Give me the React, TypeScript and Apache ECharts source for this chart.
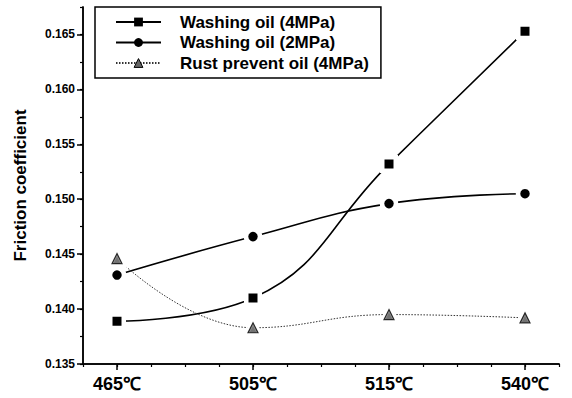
import React, { useEffect, useRef } from "react";
import * as echarts from "echarts";

const categories = ["465℃", "505℃", "515℃", "540℃"];
const seriesNames = ["Washing oil (4MPa)", "Washing oil (2MPa)", "Rust prevent oil (4MPa)"];
const washing4 = [0.1389, 0.141, 0.1532, 0.1653];
const washing2 = [0.1431, 0.1466, 0.1496, 0.1505];
const rust4 = [0.1446, 0.1383, 0.1395, 0.1392];
const yTickLabels = [0.135, 0.14, 0.145, 0.15, 0.155, 0.16, 0.165];

const FONT = "'Liberation Sans', Arial, sans-serif";

const toPoints = (vals: number[]) => vals.map((v, i) => [i, v]);

export default function App() {
  const ref = useRef<HTMLDivElement>(null);
  useEffect(() => {
    if (!ref.current) return;
    const chart = echarts.init(ref.current, null, { renderer: "svg" });
    const halo = { borderColor: "#fff", borderWidth: 4.5 };
    const axisLine = { show: true, onZero: false, lineStyle: { color: "#000", width: 1.5 } };
    chart.setOption({
      animation: false,
      backgroundColor: "#fff",
      grid: { left: 83, right: 13, top: 7, bottom: 34 },
      legend: {
        orient: "vertical",
        left: 95,
        top: 7,
        padding: [6, 12, 6, 20],
        borderColor: "#000",
        borderWidth: 1.5,
        borderRadius: 0,
        backgroundColor: "#fff",
        itemWidth: 45,
        itemHeight: 11,
        itemGap: 2.5,
        textStyle: {
          fontFamily: FONT,
          fontWeight: "bold",
          fontSize: 17,
          lineHeight: 18,
          color: "#000",
          padding: [0, 0, 0, 14],
        },
        data: [
          { name: seriesNames[0], itemStyle: { borderWidth: 0 } },
          { name: seriesNames[1], itemStyle: { borderWidth: 0 } },
          { name: seriesNames[2], itemStyle: { borderColor: "#000", borderWidth: 1 } },
        ],
      },
      xAxis: [
        {
          type: "value",
          min: -0.25,
          max: 3.25,
          interval: 0.25,
          position: "bottom",
          axisLine,
          axisTick: { show: true, inside: false, length: 3, lineStyle: { color: "#000", width: 1.2 } },
          axisLabel: { show: false },
          splitLine: { show: false },
        },
        {
          type: "value",
          min: -0.25,
          max: 3.25,
          position: "bottom",
          axisLine,
          axisTick: {
            show: true,
            inside: false,
            length: 6,
            customValues: [0, 1, 2, 3],
            lineStyle: { color: "#000", width: 1.5 },
          },
          axisLabel: {
            customValues: [0, 1, 2, 3],
            formatter: (v: number) => categories[Math.round(v)] ?? "",
            fontFamily: FONT,
            fontWeight: "bold",
            fontSize: 18,
            color: "#000",
            margin: 11,
          },
          splitLine: { show: false },
        },
      ],
      yAxis: [
        {
          type: "value",
          min: 0.135,
          max: 0.1675,
          interval: 0.0025,
          position: "left",
          axisLine,
          axisTick: { show: true, inside: false, length: 3, lineStyle: { color: "#000", width: 1.2 } },
          axisLabel: { show: false },
          splitLine: { show: false },
        },
        {
          type: "value",
          min: 0.135,
          max: 0.1675,
          position: "left",
          axisLine,
          name: "Friction coefficient",
          nameLocation: "middle",
          nameGap: 54,
          nameTextStyle: {
            fontFamily: FONT,
            fontWeight: "bold",
            fontSize: 17,
            color: "#000",
          },
          axisTick: {
            show: true,
            inside: false,
            length: 6,
            customValues: yTickLabels,
            lineStyle: { color: "#000", width: 1.5 },
          },
          axisLabel: {
            customValues: yTickLabels,
            formatter: (v: number) => v.toFixed(3),
            fontFamily: FONT,
            fontWeight: "bold",
            fontSize: 12,
            color: "#000",
            margin: 8,
          },
          splitLine: { show: false },
        },
      ],
      series: [
        {
          name: seriesNames[0],
          type: "line",
          smooth: 0.45,
          data: toPoints(washing4),
          symbol: "rect",
          symbolSize: 13.5,
          itemStyle: { color: "#000", ...halo },
          lineStyle: { color: "#000", width: 1.6 },
        },
        {
          name: seriesNames[1],
          type: "line",
          smooth: 0.45,
          data: toPoints(washing2),
          symbol: "circle",
          symbolSize: 14,
          itemStyle: { color: "#000", ...halo },
          lineStyle: { color: "#000", width: 1.6 },
        },
        {
          name: seriesNames[2],
          type: "line",
          smooth: 0.45,
          data: toPoints(rust4),
          symbol: "triangle",
          symbolSize: 14,
          itemStyle: { color: "#666", ...halo },
          lineStyle: { color: "#333", width: 1, type: [1.5, 1.5] },
        },
        {
          name: seriesNames[2] + " marker",
          type: "scatter",
          data: toPoints(rust4),
          symbol: "triangle",
          symbolSize: 10,
          z: 5,
          silent: true,
          itemStyle: { color: "#777", borderColor: "#000", borderWidth: 1.2 },
        },
      ],
    });
    return () => chart.dispose();
  }, []);
  return (
    <div
      ref={ref}
      style={{ position: "absolute", left: 0, top: 0, width: 572, height: 398 }}
    />
  );
}
